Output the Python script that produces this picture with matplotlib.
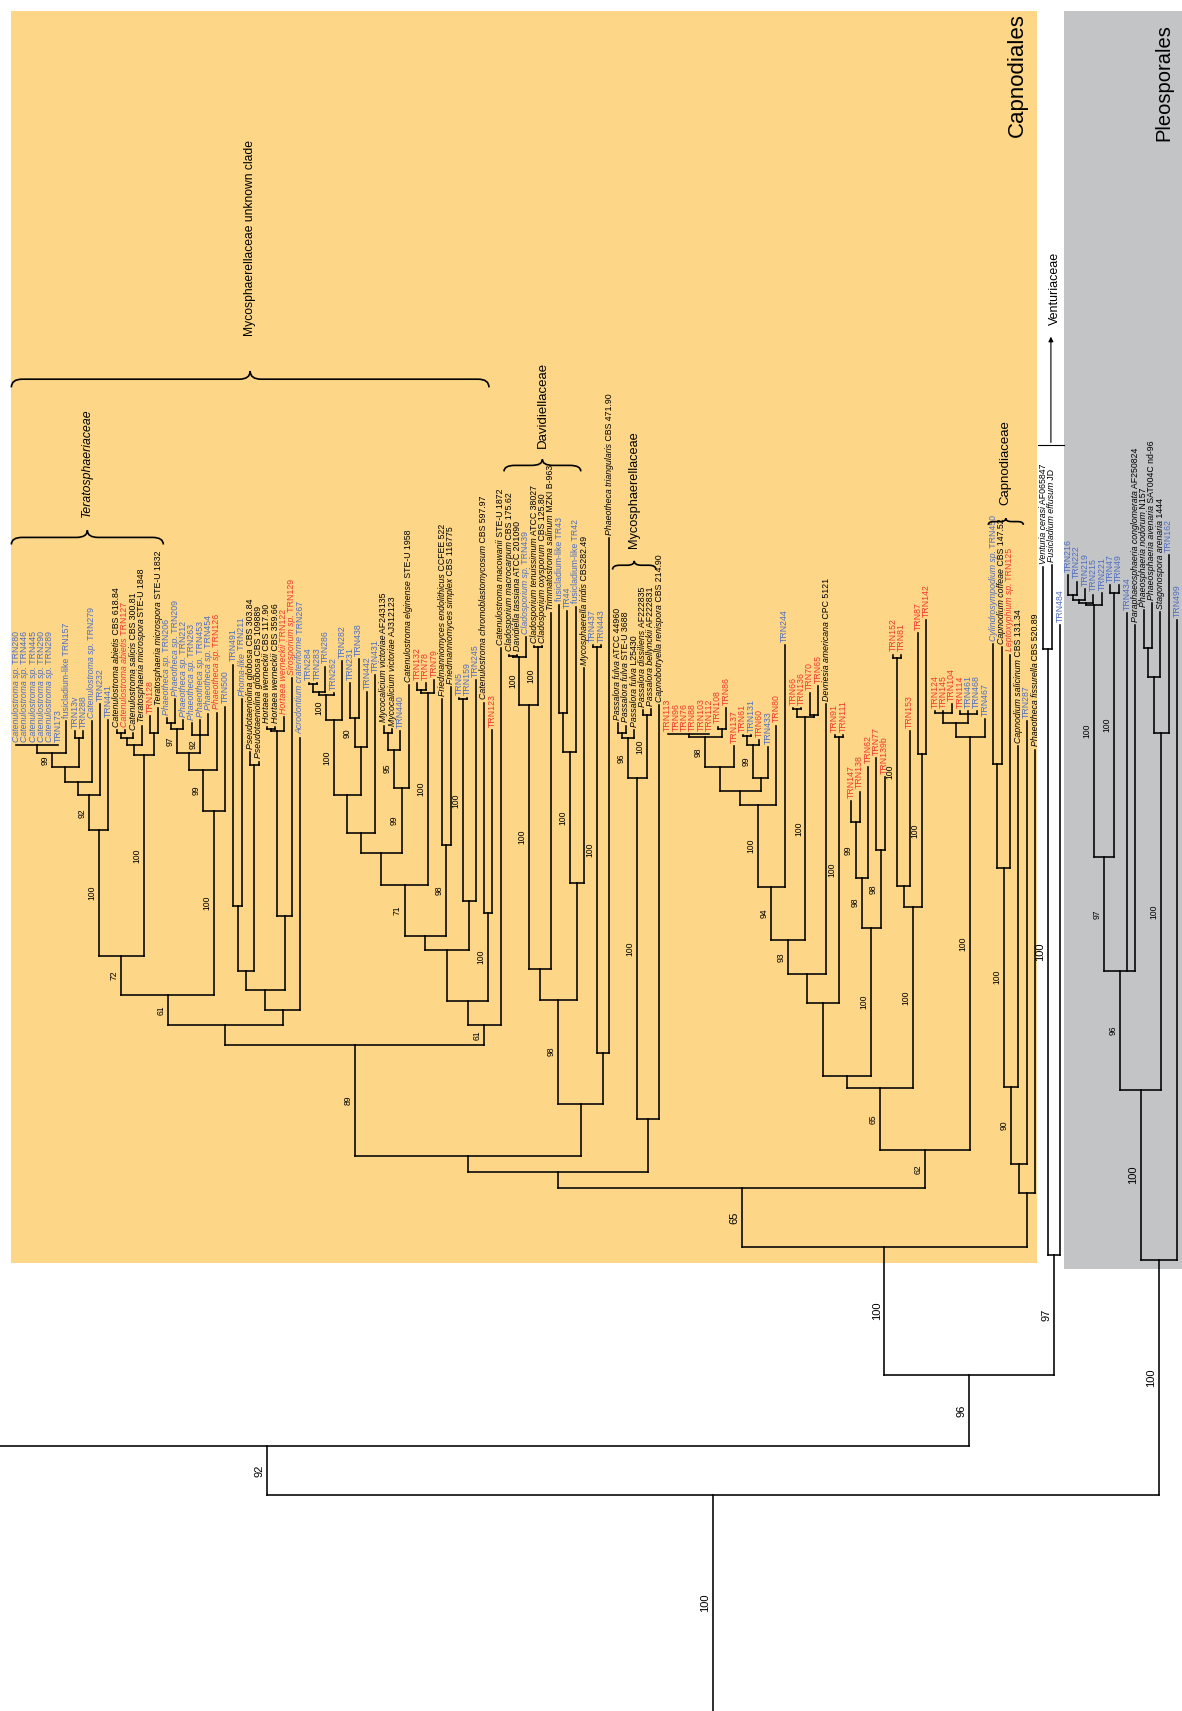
import matplotlib
matplotlib.use("Agg")
import matplotlib.pyplot as plt
from matplotlib.collections import LineCollection
from matplotlib.patches import Rectangle, PathPatch
from matplotlib.path import Path

plt.rcParams['font.family'] = ['Liberation Sans Narrow', 'Liberation Sans', 'DejaVu Sans']

# ---- taxa, left to right ----
tip_names = [
    "Catenulostroma sp. TRN280", "Catenulostroma sp. TRN446", "Catenulostroma sp. TRN445",
    "Catenulostroma sp. TRN290", "Catenulostroma sp. TRN289", "TRN173", "fusicladium-like TRN157",
    "TRN13v", "TRN288", "Catenulostroma sp. TRN279", "TRN232", "TRN441",
    "Catenulostroma abietis CBS 618.84", "Catenulostroma abietis TRN127",
    "Catenulostroma salicis CBS 300.81", "Teratosphaeria microspora STE-U 1848", "TRN128",
    "Teratosphaeria microspora STE-U 1832", "Phaeotheca sp. TRN206", "Phaeotheca sp. TRN209",
    "Phaeotheca sp. TRN212", "Phaeotheca sp. TRN263", "Phaeotheca sp. TRN453",
    "Phaeotheca sp. TRN454", "Phaeotheca sp. TRN126", "TRN500", "TRN491", "Phoma-like TRN211",
    "Pseudotaeniolina globosa CBS 303.84", "Pseudotaeniolina globosa CBS 109889",
    "Hortaea werneckii CBS 117.90", "Hortaea werneckii CBS 359.66", "Hortaea werneckii TRN122",
    "Sirosporium sp. TRN129", "Acrodontium crateriforme TRN267", "TRN284", "TRN283", "TRN286",
    "TRN262", "TRN282", "TRN231", "TRN438", "TRN442", "TRN431",
    "Mycocalicium victoriae AF243135", "Mycocalicium victoriae AJ312123", "TRN440",
    "Catenulostroma elginense STE-U 1958", "TRN132", "TRN78", "TRN79",
    "Friedmanniomyces endolithicus CCFEE 522", "Friedmanniomyces simplex CBS 116775",
    "TRN5", "TRN159", "TRN245", "Catenulostroma chromoblastomycosum CBS 597.97", "TRN123",
    "Catenulostroma macowanii STE-U 1872", "Cladosporium macrocarpum CBS 175.62",
    "Davidiella tassiana ATCC 201090", "Cladosporium sp. TRN439",
    "Cladosporium tenuissimum ATCC 38027", "Cladosporium oxysporum CBS 125.80",
    "Trimmatostroma salinum MZKI B-963", "fusicladium-like TR43", "TR44",
    "fusicladium-like TR42", "Mycosphaerella iridis CBS282.49", "TRN437", "TRN443",
    "Phaeotheca triangularis CBS 471.90", "Passalora fulva ATCC 44960",
    "Passalora fulva STE-U 3688", "Passalora fulva L25430", "Passalora dissiliens AF222835",
    "Passalora bellynckii AF222831", "Capnobotryella renispora CBS 214.90",
    "TRN113", "TRN96", "TRN76", "TRN88", "TRN103", "TRN112", "TRN108", "TRN86", "TRN137",
    "TRN61", "TRN131", "TRN60", "TRN433", "TRN80", "TRN244", "TRN66", "TRN136", "TRN70",
    "TRN65", "Devriesia americana CPC 5121", "TRN91", "TRN111", "TRN147", "TRN138", "TRN62",
    "TRN77", "TRN139b", "TRN152", "TRN81", "TRN153", "TRN87", "TRN142", "TRN124", "TRN145",
    "TRN104", "TRN114", "TRN461", "TRN468", "TRN467", "Cylindrosympodium sp. TRN450",
    "Capnodium coffeae CBS 147.52", "Leptoxyphium sp. TRN125", "Capnodium salicinum CBS 131.34",
    "TRN287", "Phaeotheca fissurella CBS 520.89", "Venturia cerasi AF065847",
    "Fusicladium effusum JD", "TRN484", "TRN216", "TRN222", "TRN219", "TRN215", "TRN221",
    "TRN47", "TRN49", "TRN434", "Paraphaeosphaeria conglomerata AF250824",
    "Phaeosphaeria nodorum N157", "Phaeosphaeria avenaria SAT004C nd-96",
    "Stagonospora arenaria 1444", "TRN162", "TRN499",
]
# k = reference strain, b = isolate (blue), r = isolate (red)
tip_colors = ("bbbbbbbbbb" "bbkrkkrkbb" "bbbbrbbbkk" "kkrrbbbbbb" "bbbbkkbkrr"
              "rkkbbbkrkk" "kbkkkbbbkb" "bkkkkkkkrr" "rrrrrrrrbr" "brbrrrrkrr"
              "rrrrrrrrrr" "rrrrbbbbkr" "kbkkkbbbbb" "bbbbkkkkbb")
# number of leading words printed in italics
tip_italic = ("2222200002" "0022220222" "2222200122" "2222200000" "0000220200"
              "0220002022" "2222200020" "0222222200" "0000000000" "0000000200"
              "0000000000" "0000000222" "2022200000" "0000222200")

# ---- tree: newick, tip = index, value after ':' = distance from root, label = bootstrap ----
comb_a = "(0:0.885,1:0.885,2:0.885,3:0.885,4:0.885,5:0.885):0.885"
tera_t1 = ("(((((" + comb_a + ",6:0.907)99:0.878,(7:0.898,8:0.898):0.892):0.865,9:0.907):0.851,"
           "10:0.923)92:0.839,11:0.908)100:0.807")
tera_s = "((((12:0.899,13:0.899):0.896,14:0.896):0.892,15:0.903):0.885,(16:0.912,17:0.919):0.896)100:0.876"
phaeo = ("(((((18:0.910,19:0.927):0.905,20:0.908)97:0.900,(21:0.905,22:0.908,23:0.914)92:0.894):0.878,"
         "24:0.915)99:0.862,25:0.9205)100:0.825")
n61 = f"(({tera_t1},{tera_s})72:0.692,{phaeo})61:0.656"
hortaea = ("((((26:0.959,27:0.927):0.738,(28:0.879,29:0.870):0.867):0.678,"
           "(((30:0.902,31:0.902):0.900,32:0.911):0.898,33:0.9465):0.729):0.661,34:0.892):0.642")
clade_x1 = f"({n61},{hortaea}):0.629"

grp_v = "((((35:0.942,36:0.942):0.941,37:0.957):0.934,38:0.933)100:0.931,39:0.962)100:0.908"
grp_w = "((40:0.942,41:0.964)90:0.910,42:0.934):0.883"
grp_u8 = "(((44:0.903,45:0.900):0.896,46:0.898)95:0.881,47:0.940)99:0.846"
grp_u7 = f"((({grp_v},{grp_w}):0.8396,43:0.9495):0.8045,{grp_u8}):0.786"
grp_u6 = f"({grp_u7},((48:0.942,49:0.942):0.936,50:0.945)100:0.933)71:0.757"
friedm = "(51:0.927,52:0.938)98:0.794"
grp_u4 = "((53:0.928,54:0.928)100:0.927,55:0.945):0.742"
clade_x3 = (f"(((({grp_u6},{friedm}):0.710,{grp_u4}):0.6975,(56:0.924,57:0.899)100:0.731):0.651,"
            "58:0.974)61:0.629")
unknown = f"({clade_x1},{clade_x3})89:0.610"

clado = "(((59:0.968,60:0.968):0.967,61:0.984)100:0.966,(62:0.976,63:0.976)100:0.975)100:0.922"
davidiella = (f"(({clado},64:1.006):0.680,(((65:1.014,66:1.008):0.915,67:1.012)100:0.879,"
              "68:0.956):0.759)98:0.652")
myco_m = "((69:0.977,70:0.977)100:0.975,71:1.075):0.603"
passalora = "(((72:0.905,73:0.903):0.896,74:0.899)96:0.892,(75:0.9175,76:0.918)100:0.913)100:0.855"
clade_ny = f"(({unknown},({davidiella},{myco_m}):0.5565):0.509,({passalora},77:0.922):0.5425):0.494"

r4 = ("((78:0.8955,79:0.8955,80:0.8955,81:0.8955,82:0.8955,83:0.8955):0.8955,"
      "(84:0.902,85:0.919):0.900)98:0.8925")
grp_r = (f"((({r4},86:0.8845):0.865,(((87:0.894,88:0.894):0.8935,89:0.890)99:0.8854,"
         "90:0.8833):0.855):0.8435,91:0.903)100:0.8304")
grp_tg = "((93:0.919,94:0.919):0.918,(95:0.933,96:0.939):0.913)100:0.911"
grp_z7 = (f"(((({grp_r},92:0.977)94:0.755,{grp_tg})93:0.7067,97:0.923):0.6755,"
          "(98:0.894,99:0.894)100:0.8924):0.6487")
grp_z4 = ("(((100:0.8335,101:0.8426)99:0.815,102:0.8655)98:0.7635,"
          "(103:0.873,104:0.856)98:0.789)100:0.718")
grp_z2 = "(((105:0.968,106:0.968)100:0.965,107:0.898):0.756,(108:0.988,109:1.000)100:0.877)100:0.737"
grp_p3 = ("(((110:0.916,111:0.916,112:0.923):0.915,(113:0.916,114:0.916,115:0.916):0.9135):0.905,"
          "116:0.909)100:0.893")
clade_n62 = f"((({grp_z7},{grp_z4}):0.582,{grp_z2})65:0.571,{grp_p3})62:0.514"
capnodiaceae = ("(((((117:0.978,118:0.975):0.868,119:0.968)100:0.773,120:0.884)90:0.5723,"
                "121:0.907):0.5015,122:0.881):0.475")
capnodiales = f"(({clade_ny},{clade_n62})65:0.479,{capnodiaceae})100:0.425"
venturiaceae = "((123:1.048,124:1.050)100:0.973,125:0.995)97:0.418"
grp_k1 = "((((126:1.0412,127:1.035):1.0228,128:1.028):1.0183,129:1.023):1.0158,130:1.0244)100:1.0137"
grp_pl4 = f"(({grp_k1},(131:1.032,132:1.032)100:1.0245)97:0.783,133:1.006,134:0.9953)96:0.678"
grp_pl2 = "(((135:1.009,136:1.0155):0.974,137:1.007):0.948,138:1.0595)100:0.8962"
pleosporales = f"(({grp_pl4},{grp_pl2})100:0.5693,139:1.000)100:0.413"
newick = f"((o:0.243,({capnodiales},{venturiaceae})96:0.308)92:0.243,{pleosporales})100:0.198"
outgroup_pos = -54   # outgroup lies outside the cropped panel

# clade brackets: (name, first tip, last tip, italic)
brackets = [("Teratosphaeriaceae", 0, 17, True),
            ("Mycosphaerellaceae unknown clade", 0, 56, False),
            ("Davidiellaceae", 59, 67, False),
            ("Mycosphaerellaceae", 72, 76, False),
            ("Capnodiaceae", 117, 120, False)]

COLORS = {"k": "black", "b": "#4f6dbf", "r": "#f0382c"}


def parse(s):
    pos = 0

    def node():
        nonlocal pos
        n = {"children": [], "name": None, "support": ""}
        if s[pos] == "(":
            pos += 1
            while True:
                n["children"].append(node())
                ch = s[pos]
                pos += 1
                if ch == ")":
                    break
            start = pos
            while s[pos] != ":":
                pos += 1
            n["support"] = s[start:pos]
        else:
            start = pos
            while s[pos] != ":":
                pos += 1
            n["name"] = s[start:pos]
        pos += 1
        start = pos
        while pos < len(s) and s[pos] not in ",)":
            pos += 1
        n["depth"] = float(s[start:pos])
        return n
    return node()


def place(n):
    if not n["children"]:
        n["x"] = outgroup_pos if n["name"] == "o" else int(n["name"])
    else:
        for c in n["children"]:
            place(c)
        n["x"] = (n["children"][0]["x"] + n["children"][-1]["x"]) / 2


tree = parse(newick)
place(tree)

fig = plt.figure(figsize=(11.82, 17.11), dpi=100)
ax = fig.add_axes([0, 0, 1, 1])
ax.set_xlim(-1.96, 139.6)
ax.set_ylim(0, 1.568)
ax.axis("off")

# background panels
ax.add_patch(Rectangle((-0.65, 0.411), 122.85, 1.147, facecolor="#fdd687", edgecolor="none", zorder=0))
ax.add_patch(Rectangle((125.5, 0.405), 20, 1.153, facecolor="#c3c4c6", edgecolor="none", zorder=0))

segs = []


def walk(n, parent_depth):
    segs.append([(n["x"], parent_depth), (n["x"], n["depth"])])
    if n["support"]:
        big = parent_depth < 0.45
        ax.text(n["x"] - 0.3, (parent_depth + n["depth"]) / 2, n["support"], rotation=90,
                ha="right", va="center", fontsize=8 if big else 6.2,
                family=["Liberation Sans", "DejaVu Sans"], zorder=3)
    if n["children"]:
        segs.append([(n["children"][0]["x"], n["depth"]), (n["children"][-1]["x"], n["depth"])])
        for c in n["children"]:
            walk(c, n["depth"])
    elif n["name"] != "o":
        i = int(n["name"])
        words = tip_names[i].split(" ")
        k = int(tip_italic[i])
        col = COLORS[tip_colors[i]]
        y = n["depth"] + 0.003
        if k:
            t = ax.text(i, y, " ".join(words[:k]), rotation=90, ha="center", va="bottom",
                        fontsize=6.3, style="italic", color=col, zorder=3)
            rest = " ".join(words[k:])
            if rest:
                ax.annotate(" " + rest, xy=(0.5, 1), xycoords=t, rotation=90, ha="center",
                            va="bottom", fontsize=6.3, color=col, annotation_clip=False, zorder=3)
        else:
            ax.text(i, y, tip_names[i], rotation=90, ha="center", va="bottom",
                    fontsize=6.3, color=col, zorder=3)


walk(tree, 0.0)
ax.add_collection(LineCollection(segs, colors="black", linewidths=1.15,
                                 capstyle="projecting", zorder=2))


def brace(x0, x1, y_end, h):
    xm = (x0 + x1) / 2
    r = min(1.3, (x1 - x0) / 6)
    yf = y_end + h * 0.5
    yp = y_end + h
    verts = [(x0, y_end), (x0, yf), (x0 + r, yf), (xm - r, yf), (xm, yf), (xm, yp),
             (xm, yf), (xm + r, yf), (x1 - r, yf), (x1, yf), (x1, y_end)]
    codes = [Path.MOVETO, Path.CURVE3, Path.CURVE3, Path.LINETO, Path.CURVE3, Path.CURVE3,
             Path.CURVE3, Path.CURVE3, Path.LINETO, Path.CURVE3, Path.CURVE3]
    ax.add_patch(PathPatch(Path(verts, codes), facecolor="none", edgecolor="black", lw=1.2, zorder=3))
    return xm, yp


# brace: (end depth, height, text gap, font size)
brace_geom = {"Teratosphaeriaceae": (1.069, 0.013, 0.012, 8.8),
              "Mycosphaerellaceae unknown clade": (1.213, 0.015, 0.032, 8.7),
              "Davidiellaceae": (1.136, 0.011, 0.010, 9.5),
              "Mycosphaerellaceae": (1.046, 0.008, 0.012, 9.2),
              "Capnodiaceae": (1.087, 0.006, 0.012, 9.5)}
for name, a, b, it in brackets:
    y_end, h, gap, fs = brace_geom[name]
    xm, yp = brace(a - 0.6, b + 0.6, y_end, h)
    ax.text(xm, yp + gap, name, rotation=90, ha="center", va="bottom", fontsize=fs,
            style="italic" if it else "normal", family=["Liberation Sans", "DejaVu Sans"])

# Venturiaceae marker
ax.plot([122.4, 125.5], [1.160, 1.160], color="black", lw=0.8)
ax.annotate("", xy=(123.9, 1.262), xytext=(123.9, 1.160),
            arrowprops=dict(arrowstyle="-|>", color="black", lw=0.8, mutation_scale=7))
ax.text(124.4, 1.270, "Venturiaceae", rotation=90, ha="center", va="bottom", fontsize=9,
        family=["Liberation Sans", "DejaVu Sans"])

ax.text(119.9, 1.556, "Capnodiales", rotation=90, ha="center", va="top", fontsize=16,
        family=["Liberation Sans", "DejaVu Sans"])
ax.text(137.4, 1.546, "Pleosporales", rotation=90, ha="center", va="top", fontsize=14.5,
        family=["Liberation Sans", "DejaVu Sans"])

fig.savefig("out.png", dpi=100)
